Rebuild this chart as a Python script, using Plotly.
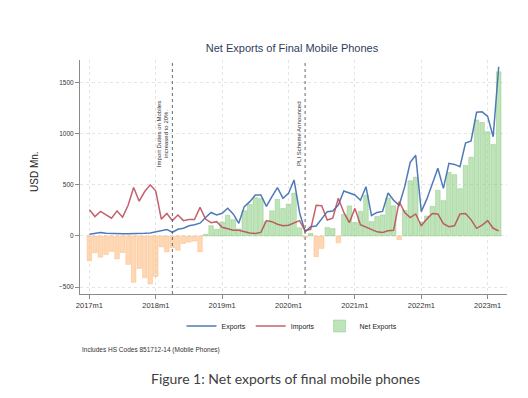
import plotly.graph_objects as go

# ---- data (USD Mn., monthly 2017m1 .. 2023m3) ----
years = [2017, 2018, 2019, 2020, 2021, 2022, 2023]
months = [f"{y}m{m}" for y in years for m in range(1, 13)][:75]

exports = [16, 26, 33, 26, 23, 22, 22, 22, 22, 22, 26, 30,
           43, 58, 64, 36, 66, 76, 100, 110, 125, 180, 230, 205,
           222, 271, 215, 124, 287, 336, 401, 401, 290, 385, 473, 368,
           417, 548, 230, 40, 90, 98, 173, 238, 245, 303, 440, 424,
           401, 350, 482, 200, 230, 240, 420, 350, 300, 480, 720, 790,
           238, 360, 510, 662, 466, 711, 700, 678, 910, 930, 1210, 1215,
           1170, 971, 1656]

imports = [257, 190, 240, 207, 174, 245, 184, 300, 475, 340, 435, 500,
           440, 165, 220, 150, 205, 150, 160, 160, 280, 165, 130, 140,
           85, 70, 55, 55, 40, 28, 25, 35, 150, 140, 115, 100,
           105, 130, 150, 52, 65, 300, 295, 156, 173, 370, 230, 130,
           270, 110, 85, 60, 40, 35, 50, 55, 335, 230, 180, 215,
           100, 165, 220, 215, 120, 90, 100, 215, 220, 160, 75, 105,
           150, 75, 50]

net_exports = [-241, -164, -207, -181, -151, -223, -162, -278, -453, -318, -409, -470,
               -397, -107, -156, -114, -139, -74, -60, -50, -155, 15, 100, 65,
               137, 201, 160, 69, 247, 308, 376, 366, 140, 245, 358, 268,
               312, 418, 80, -12, 25, -202, -122, 82, 72, -67, 210, 294,
               131, 240, 397, 140, 190, 205, 370, 295, -35, 250, 540, 575,
               138, 195, 290, 447, 346, 621, 600, 463, 690, 770, 1135, 1110,
               1020, 896, 1606]

tick_labels = ["2017m1", "2018m1", "2019m1", "2020m1", "2021m1", "2022m1", "2023m1"]
events = [("2018m4", "Import Duties on Mobiles<br>increased to 20%."),
          ("2020m4", "PLI Scheme Announced")]

x = list(range(len(months)))
tick_pos = [months.index(t) for t in tick_labels]

net_pos = [v if v >= 0 else None for v in net_exports]
net_neg = [v if v < 0 else None for v in net_exports]

# page geometry: the html body adds an 8px margin
W, H = 520, 390
L, R, T, B = 72, 21, 52, 104
plot_h = H - T - B


def py(page_y):
    """paper y coordinate for a page pixel row"""
    return (H + 8 - B - page_y) / plot_h


fig = go.Figure()
fig.add_trace(go.Bar(x=x, y=net_neg, name="Net Exports (negative)", width=0.82, showlegend=False,
                     marker=dict(color="rgba(253,190,130,0.6)",
                                 line=dict(color="rgba(248,180,120,0.7)", width=0.6))))
fig.add_trace(go.Bar(x=x, y=net_pos, name="Net Exports", width=0.82, legendrank=3,
                     marker=dict(color="rgba(150,210,140,0.6)",
                                 line=dict(color="rgba(125,195,115,0.7)", width=0.6))))
fig.add_trace(go.Scatter(x=x, y=exports, name="Exports", mode="lines", legendrank=1,
                         line=dict(color="rgba(70,115,180,0.95)", width=1.5)))
fig.add_trace(go.Scatter(x=x, y=imports, name="Imports", mode="lines", legendrank=2,
                         line=dict(color="rgba(185,70,80,0.85)", width=1.5)))

for ev, txt in events:
    xi = months.index(ev)
    fig.add_shape(type="line", x0=xi, x1=xi, y0=0, y1=1, xref="x", yref="paper",
                  line=dict(color="#666666", width=1, dash="dot"), layer="above")
    fig.add_annotation(x=xi, y=1000, xref="x", yref="y", text=txt, textangle=-90,
                       showarrow=False, xanchor="right", yanchor="middle", xshift=-1,
                       font=dict(size=6, color="#333333", family="Liberation Sans"),
                       align="center")

fig.add_annotation(x=(34 - 80) / (W - L - R), y=py(172), xref="paper", yref="paper", text="USD Mn.",
                   textangle=-90, showarrow=False, xanchor="center", yanchor="middle",
                   font=dict(size=10, color="#222222", family="Liberation Sans"))
fig.add_annotation(x=0.0, y=py(350), xref="paper", yref="paper",
                   text="Includes HS Codes 851712-14 (Mobile Phones)",
                   showarrow=False, xanchor="left", yanchor="middle",
                   font=dict(size=6.5, color="#333333", family="Liberation Sans"))
fig.add_annotation(x=(285 - 80) / (W - L - R), y=py(378), xref="paper", yref="paper",
                   text="Figure 1: Net exports of final mobile phones",
                   showarrow=False, xanchor="center", yanchor="middle",
                   font=dict(size=14, color="#404040", family="Lato"))

fig.update_layout(
    width=W, height=H,
    margin=dict(l=L, r=R, t=T, b=B),
    paper_bgcolor="white", plot_bgcolor="white",
    title=dict(text="Net Exports of Final Mobile Phones", x=(292 - 8) / W, xanchor="center",
               y=1 - (48 - 8) / H, yanchor="middle",
               font=dict(size=11, color="#2f3d5c", family="Liberation Sans")),
    showlegend=True,
    legend=dict(orientation="h", x=(292 - 80) / (W - L - R), xanchor="center",
                y=py(326), yanchor="middle",
                font=dict(size=7, color="#222222", family="Liberation Sans"),
                traceorder="normal", itemwidth=30),
    barmode="overlay",
    font=dict(family="Liberation Sans"),
)

fig.update_xaxes(range=[-1.7, 75.5], tickmode="array", tickvals=tick_pos, ticktext=tick_labels,
                 showgrid=True, gridcolor="#e4e4e4", griddash="dot", gridwidth=1,
                 showline=True, linecolor="#8a8a8a", linewidth=1,
                 ticks="outside", ticklen=4, tickcolor="#8a8a8a",
                 tickfont=dict(size=7.5, color="#333333"), zeroline=False)
fig.update_yaxes(range=[-568, 1722], tickvals=[-500, 0, 500, 1000, 1500],
                 showgrid=True, gridcolor="#e4e4e4", griddash="dot", gridwidth=1,
                 showline=True, linecolor="#8a8a8a", linewidth=1,
                 ticks="outside", ticklen=4, tickcolor="#8a8a8a",
                 tickfont=dict(size=6.5, color="#333333"), zeroline=False)

fig.write_html("out.html")
